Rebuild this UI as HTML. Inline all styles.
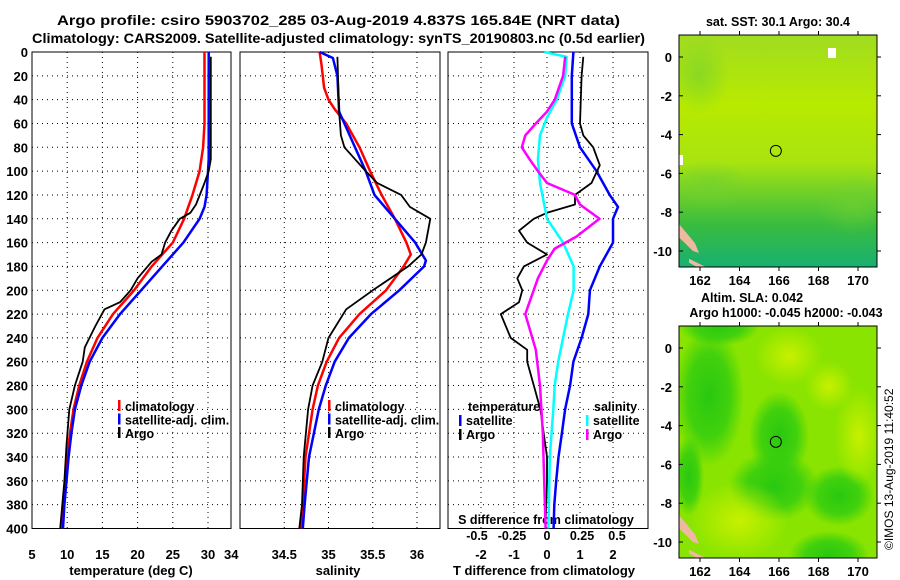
<!DOCTYPE html>
<html><head><meta charset="utf-8">
<style>
body{margin:0;background:#fff;}
svg{display:block;font-family:"Liberation Sans",sans-serif;font-weight:bold;}
</style></head>
<body>
<svg id="c" width="900" height="580" viewBox="0 0 900 580">
<defs>
<linearGradient id="sstg" x1="0" y1="0" x2="0" y2="1">
<stop offset="0" stop-color="#a0dc20"/><stop offset="0.3" stop-color="#b8ea00"/>
<stop offset="0.55" stop-color="#a8e410"/><stop offset="0.68" stop-color="#70d028"/>
<stop offset="0.82" stop-color="#38bc40"/><stop offset="1" stop-color="#18b070"/>
</linearGradient>
<radialGradient id="slag1" cx="0.5" cy="0.5" r="0.5"><stop offset="0" stop-color="#28c810"/><stop offset="0.6" stop-color="#30cc10" stop-opacity="0.8"/><stop offset="1" stop-color="#30cc10" stop-opacity="0"/></radialGradient>
<radialGradient id="slag2" cx="0.5" cy="0.5" r="0.5"><stop offset="0" stop-color="#c8f000"/><stop offset="1" stop-color="#c8f000" stop-opacity="0"/></radialGradient>
<radialGradient id="sstblob" cx="0.5" cy="0.5" r="0.5"><stop offset="0" stop-color="#70d030" stop-opacity="0.6"/><stop offset="1" stop-color="#70d030" stop-opacity="0"/></radialGradient>
<clipPath id="clipSst"><rect x="679" y="35" width="198" height="232"/></clipPath>
<clipPath id="clipSla"><rect x="679" y="326" width="198" height="232"/></clipPath>
</defs>
<text x="57" y="25" font-size="14" textLength="563" lengthAdjust="spacingAndGlyphs">Argo profile: csiro 5903702_285 03-Aug-2019 4.837S 165.84E (NRT data)</text>
<text x="32" y="43" font-size="14" textLength="613" lengthAdjust="spacingAndGlyphs">Climatology: CARS2009. Satellite-adjusted climatology: synTS_20190803.nc (0.5d earlier)</text>
<g id="plots"></g>
<g id="maps"></g>
<text transform="translate(893,550) rotate(-90)" font-size="12" font-weight="normal">©IMOS 13-Aug-2019 11:40:52</text>
</svg>
<script>
// ---- data ----
const depthTicks=[0,20,40,60,80,100,120,140,160,180,200,220,240,260,280,300,320,340,360,380,400];
const tempTicks=[5,10,15,20,25,30];
const salTicks=[34,34.5,35,35.5,36];
const salTickLabels=["34","34.5","35","35.5","36"];
const dTTicks=[-2,-1,0,1,2];
const dSTicks=[-0.5,-0.25,0,0.25,0.5];
const dSTickLabels=["-0.5","-0.25","0","0.25","0.5"];

const tClimDepth=[0,60,80,100,120,140,160,170,180,200,220,240,260,280,300,320,340,360,380,400];
const tClimVal=[29.5,29.5,29.3,28.8,27.8,26.6,25,23.5,22,19.5,16.5,14.3,12.8,11.7,10.9,10.4,10.0,9.7,9.4,9.2];
const tSatDepth=[0,90,100,120,130,140,160,180,200,220,240,260,280,300,320,340,360,380,400];
const tSatVal=[30.1,30.1,30.0,29.8,29.5,28.8,26.5,23.5,20.5,17.5,15,13.2,12,11.1,10.6,10.2,9.9,9.6,9.4];
const tArgoDepth=[4,90,100,110,128,135,140,150,160,170,176,190,200,210,216,230,248,260,280,300,330,360,380,400];
const tArgoVal=[30.4,30.4,30.1,29.5,28.3,27.5,26,24.8,23.9,23.4,22,20,19,17.5,15.3,14,12.5,12.2,11.1,10.3,9.9,9.6,9.3,9.0];

const sClimDepth=[0,10,30,40,48,60,80,100,120,140,160,170,180,200,220,240,260,280,300,340,380,400];
const sClimVal=[34.9,34.92,34.95,35.0,35.07,35.2,35.35,35.47,35.6,35.75,35.88,35.93,35.85,35.65,35.35,35.12,34.98,34.88,34.82,34.74,34.71,34.69];
const sSatDepth=[0,5,20,50,60,80,100,120,140,160,175,180,200,220,240,260,280,300,340,380,400];
const sSatVal=[34.9,35.05,35.1,35.12,35.18,35.3,35.42,35.52,35.75,35.98,36.1,36.08,35.8,35.48,35.23,35.07,34.97,34.89,34.78,34.73,34.71];
const sArgoDepth=[4,50,70,80,100,110,120,130,140,160,170,180,200,216,240,260,280,300,340,380,400];
const sArgoVal=[35.1,35.12,35.14,35.18,35.42,35.55,35.82,35.92,36.15,36.1,36.05,35.9,35.5,35.2,35.0,34.93,34.82,34.77,34.72,34.7,34.67];

const dTSatDepth=[0,20,60,80,100,120,130,140,160,180,200,220,240,260,280,300,320,340,360,380,400];
const dTSatVal=[0.8,0.75,0.75,1.0,1.5,1.9,2.15,2.0,2.0,1.6,1.3,1.25,1.05,0.8,0.7,0.55,0.45,0.35,0.28,0.22,0.2];
const dTArgoDepth=[4,20,60,70,80,95,110,120,128,135,140,150,160,170,180,190,200,210,220,240,250,260,280,300,320,340,360,400];
const dTArgoVal=[1.1,1.05,1.0,1.1,1.4,1.6,1.35,0.85,0.85,0,-0.4,-0.85,-0.6,0,-0.7,-0.9,-0.75,-0.85,-1.4,-1.1,-0.6,-0.6,-0.4,-0.2,-0.1,0,0,-0.05];
const dSSatDepth=[0,4,20,40,55,70,90,110,128,140,160,180,200,220,240,260,280,300,340,400];
const dSSatVal=[-0.02,0.14,0.13,0.07,0,-0.05,-0.065,-0.05,-0.02,0,0.115,0.19,0.19,0.15,0.115,0.08,0.055,0.045,0.02,0.01];
const dSArgoDepth=[4,20,40,50,60,70,80,90,100,110,120,128,140,155,165,175,190,220,250,280,320,360,400];
const dSArgoVal=[0.13,0.115,0.055,0,-0.08,-0.155,-0.18,-0.125,-0.065,0,0.2,0.235,0.375,0.21,0.055,0,-0.065,-0.155,-0.08,-0.05,-0.03,-0.02,-0.01];

const latTicks=[0,-2,-4,-6,-8,-10];
const lonTicks=[162,164,166,168,170];

// ---- helpers ----
const NS="http://www.w3.org/2000/svg";
const plots=document.getElementById('plots');
const maps=document.getElementById('maps');
function mk(tag,attrs,parent,txt){const e=document.createElementNS(NS,tag);for(const k in attrs)e.setAttribute(k,attrs[k]);if(txt!==undefined)e.textContent=txt;(parent||plots).appendChild(e);return e;}
const Y0=52,Y1=528.5;
function yD(d){return Y0+(d/400)*(Y1-Y0);}
function linX(x0,x1,v0,v1){return v=>x0+(v-v0)/(v1-v0)*(x1-x0);}

const P1={x0:32,x1:231}, P2={x0:240,x1:440}, P3={x0:448,x1:648};
const xT=linX(32,208,5,30);
const xS=linX(240,417,34,36);
const xDT=linX(547,613,0,2);
const xDS=linX(547,617,0,0.5);

function frame(P,name){
  const g=mk('g',{});
  
  
  depthTicks.forEach(d=>{if(d>0&&d<400){const l=mk('line',{x1:P.x0,x2:P.x1,y1:yD(d),y2:yD(d),stroke:'#000','stroke-width':1,'stroke-dasharray':'1,4'},g);
    }});
  mk('rect',{x:P.x0,y:Y0,width:P.x1-P.x0,height:Y1-Y0,fill:'none',stroke:'#000','stroke-width':1},g);
  return g;
}
function vgrid(P,ticks,fx){ticks.forEach(t=>{const x=fx(t);if(x>P.x0+1&&x<P.x1-1){const l=mk('line',{x1:x,x2:x,y1:Y0,y2:Y1,stroke:'#000','stroke-width':1,'stroke-dasharray':'1,4'});
  }});}
function line(depths,vals,fx,color,w,name){
  const pts=depths.map((d,i)=>fx(vals[i]).toFixed(1)+','+yD(d).toFixed(1)).join(' ');
  const p=mk('polyline',{points:pts,fill:'none',stroke:color,'stroke-width':w,'stroke-linejoin':'round'});
  
  
}
function txt(x,y,s,size,anchor,name,color){const t=mk('text',{x:x,y:y,'font-size':size,'text-anchor':anchor||'start',fill:color||'#000'},plots,s);
  return t;}

// panel 1
frame(P1,'temperature-panel');
vgrid(P1,tempTicks,xT);
depthTicks.forEach(d=>txt(28,yD(d)+5,String(d),13,'end','y-tick-label'));
tempTicks.forEach(t=>txt(xT(t),559,String(t),13,'middle','x-tick-label-temp'));
txt(xT(33.3),559,"34",13,'middle','x-tick-label-sal');
txt(131,575,"temperature (deg C)",13,'middle','x-axis-title-temp');
line(tClimDepth,tClimVal,xT,'#ff0000',2.5,'temp-climatology-line');
line(tSatDepth,tSatVal,xT,'#0000ff',2.5,'temp-satellite-line');
line(tArgoDepth,tArgoVal,xT,'#000',1.8,'temp-argo-line');
[['climatology','#f00'],['satellite-adj. clim.','#00f'],['Argo','#000']].forEach((e,i)=>{
  const r=mk('rect',{x:118,y:400+i*13.5,width:2.5,height:11,fill:e[1]});
  txt(125,411+i*13.5,e[0],12.5,'start','legend-entry');
});

// panel 2
frame(P2,'salinity-panel');
vgrid(P2,salTicks,xS);
salTicks.forEach((t,i)=>{if(i>0)txt(xS(t),559,salTickLabels[i],13,'middle','x-tick-label-sal');});
txt(338,575,"salinity",13,'middle','x-axis-title-sal');
line(sClimDepth,sClimVal,xS,'#ff0000',2.5,'sal-climatology-line');
line(sSatDepth,sSatVal,xS,'#0000ff',2.5,'sal-satellite-line');
line(sArgoDepth,sArgoVal,xS,'#000',1.8,'sal-argo-line');
[['climatology','#f00'],['satellite-adj. clim.','#00f'],['Argo','#000']].forEach((e,i)=>{
  const r=mk('rect',{x:328,y:400+i*13.5,width:2.5,height:11,fill:e[1]});
  txt(335,411+i*13.5,e[0],12.5,'start','legend-entry');
});

// panel 3
frame(P3,'difference-panel');
vgrid(P3,dTTicks,xDT);
dTTicks.forEach(t=>txt(xDT(t),559,String(t),13,'middle','x-tick-label-dT'));
dSTicks.forEach((t,i)=>txt(xDS(t),540,dSTickLabels[i],12.5,'middle','x-tick-label-dS'));
txt(546,524,"S difference from climatology",12.5,'middle','x-axis-title-dS');
txt(544,575,"T difference from climatology",13,'middle','x-axis-title-dT');
line(dTSatDepth,dTSatVal,xDT,'#0000ff',2.5,'dT-satellite-line');
line(dTArgoDepth,dTArgoVal,xDT,'#000',1.8,'dT-argo-line');
line(dSSatDepth,dSSatVal,xDS,'#00ffff',2.5,'dS-satellite-line');
line(dSArgoDepth,dSArgoVal,xDS,'#ff00ff',2.5,'dS-argo-line');
txt(468,411,"temperature",12.5,'start','legend-title-temperature');
txt(594,411,"salinity",12.5,'start','legend-title-salinity');
[['satellite','#00f',459,425],['Argo','#000',459,439],['satellite','#0ff',586,425],['Argo','#f0f',586,439]].forEach(e=>{
  const r=mk('rect',{x:e[2],y:e[3]-10,width:2.5,height:11,fill:e[1]});
  txt(e[2]+7,e[3],e[0],12.5,'start','legend-entry');
});

// ---- maps ----
function mapPanel(y0,y1,fillFn,name,clip){
  const x0=679,x1=877;
  const g=mk('g',{},maps);
  
  
  const inner=mk('g',{'clip-path':'url(#'+clip+')'},g);
  fillFn(inner,x0,y0,x1,y1);
  const lat=linX(y0+(57-35)/232*(y1-y0),y0+(251-35)/232*(y1-y0),0,-10);
  const lon=linX(700,858,162,170);
  mk('path',{d:`M${x0},${lat(-8.6)} L${x0+16},${lat(-9.6)} L${x0+20},${lat(-10.1)} L${x0+14},${lat(-10)} L${x0},${lat(-9.3)}Z`,fill:'#f0b8a0'},inner);
  mk('path',{d:`M${x0+10},${lat(-10.4)} L${x0+30},${lat(-10.9)} L${x0+18},${y1} L${x0+10},${lat(-10.6)}Z`,fill:'#f0b8a0'},inner);
  mk('rect',{x:x0,y:y0,width:x1-x0,height:y1-y0,fill:'none',stroke:'#000','stroke-width':1},g);
  latTicks.forEach(t=>{const y=lat(t);
    mk('line',{x1:x0,x2:x0+4,y1:y,y2:y,stroke:'#000'},g);mk('line',{x1:x1,x2:x1+4,y1:y,y2:y,stroke:'#000'},g);
    const tt=mk('text',{x:x0-7,y:y+5,'font-size':13,'text-anchor':'end'},g,String(t));});
  lonTicks.forEach(t=>{const x=lon(t);
    mk('line',{x1:x,x2:x,y1:y1,y2:y1+4,stroke:'#000'},g);mk('line',{x1:x,x2:x,y1:y0-4,y2:y0,stroke:'#000'},g);
    const tt=mk('text',{x:x,y:y1+18,'font-size':13,'text-anchor':'middle'},g,String(t));});
  const c=mk('circle',{cx:lon(165.84),cy:lat(-4.837),r:5.5,fill:'none',stroke:'#000','stroke-width':1},g);
  
}
mapPanel(35,267,(g,x0,y0,x1,y1)=>{
  mk('rect',{x:x0,y:y0,width:x1-x0,height:y1-y0,fill:'url(#sstg)'},g);
  mk('ellipse',{cx:x0+20,cy:y0+40,rx:30,ry:40,fill:'url(#sstblob)'},g);
  mk('ellipse',{cx:x0+30,cy:y0+150,rx:40,ry:25,fill:'url(#sstblob)'},g);
  mk('ellipse',{cx:x0+175,cy:y0+170,rx:35,ry:30,fill:'url(#sstblob)'},g);
  mk('rect',{x:x0+149,y:y0+13,width:8,height:10,fill:'#fff'},g);
  mk('rect',{x:x0,y:y0+120,width:4,height:10,fill:'#fff'},g);
},'sst-map','clipSst');
const tsst=mk('text',{x:778,y:26,'font-size':12.5,'text-anchor':'middle'},maps,'sat. SST: 30.1  Argo: 30.4');


mapPanel(326,558,(g,x0,y0,x1,y1)=>{
  mk('rect',{x:x0,y:y0,width:x1-x0,height:y1-y0,fill:'#88e400'},g);
  [[30,70,35,70],[100,110,30,45],[95,160,45,35],[160,170,35,30],[150,230,40,25],[40,0,40,20],[10,150,15,40]].forEach(e=>mk('ellipse',{cx:x0+e[0],cy:y0+e[1],rx:e[2],ry:e[3],fill:'url(#slag1)'},g));
  [[110,30,35,30],[60,195,50,40],[180,110,25,50],[150,60,25,25]].forEach(e=>mk('ellipse',{cx:x0+e[0],cy:y0+e[1],rx:e[2],ry:e[3],fill:'url(#slag2)'},g));
},'sla-map','clipSla');
const ts1=mk('text',{x:752,y:302,'font-size':12.5,'text-anchor':'middle'},maps,'Altim. SLA: 0.042');

const ts2=mk('text',{x:786,y:317,'font-size':12.5,'text-anchor':'middle'},maps,'Argo h1000: -0.045 h2000: -0.043');

</script>
</body></html>
